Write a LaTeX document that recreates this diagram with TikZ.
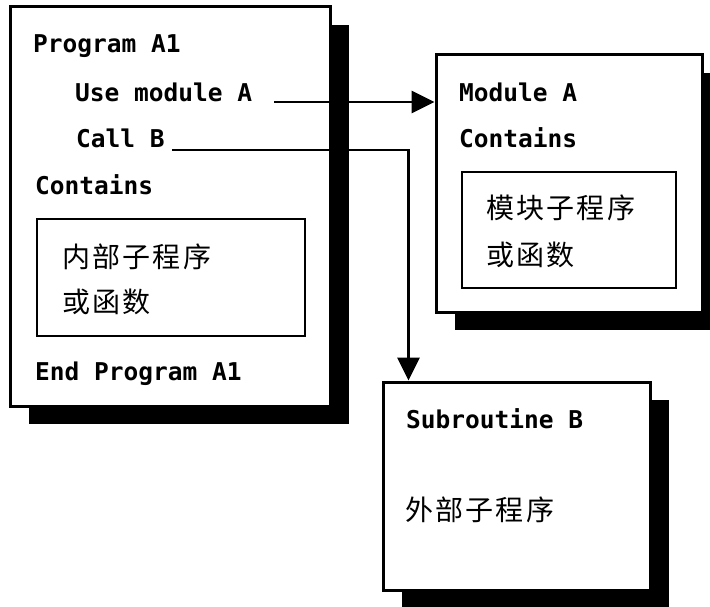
\documentclass[tikz,border=0pt]{standalone}
\usepackage{fontspec}
\usetikzlibrary{arrows.meta,shadows}
\newfontfamily\codefont{DejaVu Sans Mono Bold}
\newfontfamily\cjkfont[LetterSpace=8]{Noto Sans CJK SC}
\tikzset{
  panel/.style={draw=black, line width=3pt, fill=white, inner sep=0pt,
    general shadow={fill=black, shadow xshift=19pt, shadow yshift=-18pt}},
  innerbox/.style={draw=black, line width=2pt, fill=white, inner sep=0pt},
  code/.style={inner sep=0pt, anchor=base west, font=\codefont\fontsize{24.5}{28}\selectfont},
  cjk/.style={inner sep=0pt, anchor=west, font=\cjkfont\fontsize{28}{32}\selectfont},
  link/.style={line width=2.8pt, -{Triangle[length=23pt,width=22pt]}}
}
\begin{document}
\begin{tikzpicture}[x=1pt, y=-1pt]
\useasboundingbox (0,0) rectangle (710,607);
\clip (0,0) rectangle (710,607);

% main program
\node[panel, minimum width=320pt, minimum height=399pt] (boxA1) at (170,206.5) {};
\node[code] (progA) at (33,53) {Program A1};
\node[code] (usemod) at (75,102) {Use module A};
\node[code] (callb) at (76,148) {Call B};
\node[code] (contA) at (35,195) {Contains};
\node[innerbox, minimum width=268pt, minimum height=117pt] (inA1) at (171,277.5) {};
\node[cjk] (inA1a) at (62,257) {内部子程序};
\node[cjk] (inA1b) at (62,302) {或函数};
\node[code] (endA) at (35,380) {End Program A1};

% module A
\node[panel, minimum width=266pt, minimum height=257pt] (boxMod) at (569,183.5) {};
\node[code] (modA) at (459,102) {Module A};
\node[code] (contM) at (459,148) {Contains};
\node[innerbox, minimum width=214pt, minimum height=116pt] (inMod) at (569,230) {};
\node[cjk] (inModa) at (486,208) {模块子程序};
\node[cjk] (inModb) at (486,255) {或函数};

% subroutine B
\node[panel, minimum width=267pt, minimum height=208pt] (boxSub) at (516.5,486) {};
\node[code] (subB) at (406,428) {Subroutine B};
\node[cjk] (subBc) at (405,510) {外部子程序};

% connectors
\draw[link] ([xshift=22pt]usemod.base east) -- (boxMod.west |- usemod.base east);
\draw[link] ([xshift=7pt,yshift=-2pt]callb.base east) -| ([xshift=27pt]boxSub.north west);
\end{tikzpicture}
\end{document}
